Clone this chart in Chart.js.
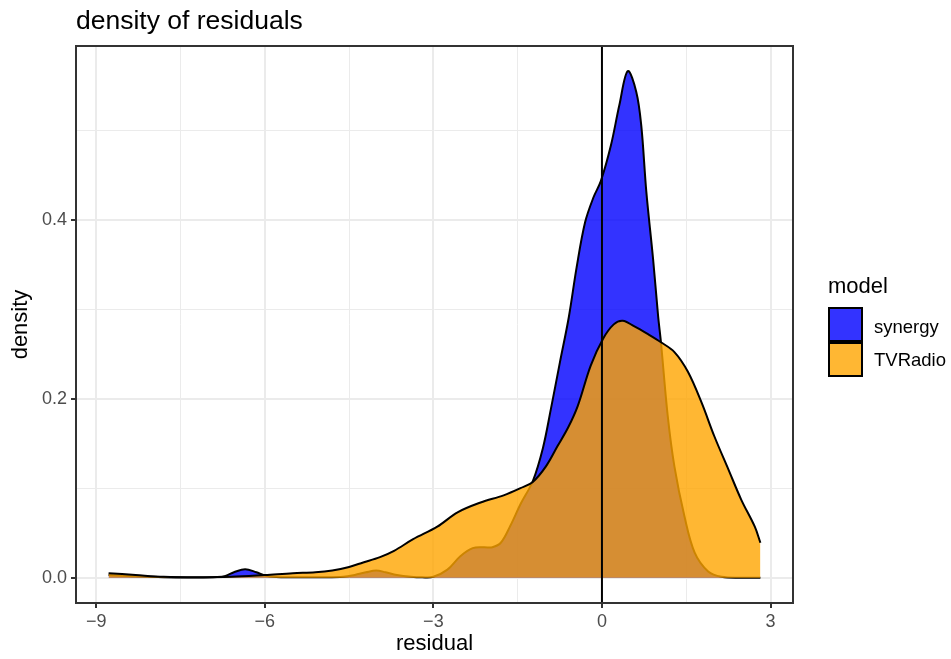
<!DOCTYPE html>
<html>
<head>
<meta charset="utf-8">
<script src="https://cdn.jsdelivr.net/npm/chart.js@4/dist/chart.umd.min.js"></script>
<style>
  body { margin: 0; background: #ffffff; }
  #wrap { position: relative; width: 951px; height: 659px; font-family: "Liberation Sans", Arial, sans-serif; }
  #myChart { position: absolute; left: 0; top: 0; }
  #title { position: absolute; left: 76px; top: 7px; font-size: 26.5px; line-height: 26.5px; color: #000; white-space: nowrap; }
  #legendTitle { position: absolute; left: 828px; top: 275px; font-size: 22px; line-height: 22px; color: #000; }
  .key { position: absolute; left: 828px; width: 31px; height: 31px; border: 2px solid #000; }
  .keyLabel { position: absolute; left: 874px; font-size: 18.5px; line-height: 18.5px; color: #000; white-space: nowrap; }
</style>
</head>
<body>
<div id="wrap">
  <canvas id="myChart" width="951" height="659"></canvas>
  <div id="title"></div>
  <div id="legend"></div>
</div>
<script>
//chart data
let chartTitle = "density of residuals";
let xTitle = "residual";
let yTitle = "density";
let legendTitle = "model";
let models = ["synergy", "TVRadio"];
let fills = ["rgba(0, 0, 255, 0.8)", "rgba(255, 165, 0, 0.8)"];

//synergy density curve
let synergyX = [-8.78, -8.3, -7.8, -7.2, -6.85, -6.7, -6.55, -6.35, -6.15, -6.0, -5.8, -5.5, -5.0, -4.6, -4.4, -4.2, -4.02, -3.85, -3.65, -3.4, -3.2, -3.0, -2.75, -2.52, -2.3, -2.1, -1.95, -1.8, -1.63, -1.45, -1.23, -1.05, -0.91, -0.75, -0.59, -0.45, -0.3, -0.15, -0.02, 0.16, 0.31, 0.46, 0.61, 0.7, 0.79, 0.91, 1.0, 1.05, 1.17, 1.29, 1.47, 1.65, 1.89, 2.13, 2.5, 2.82];
let synergyY = [0.003, 0.0015, 0.0005, 0.0003, 0.0008, 0.002, 0.006, 0.0095, 0.006, 0.0025, 0.0008, 0.0005, 0.0005, 0.001, 0.003, 0.006, 0.008, 0.006, 0.003, 0.001, 0.0004, 0.001, 0.009, 0.024, 0.033, 0.034, 0.034, 0.039, 0.058, 0.082, 0.108, 0.145, 0.188, 0.24, 0.291, 0.347, 0.397, 0.425, 0.443, 0.483, 0.528, 0.566, 0.543, 0.505, 0.431, 0.356, 0.292, 0.263, 0.181, 0.124, 0.068, 0.028, 0.007, 0.001, 0.0, 0.0];

//TVRadio density curve
let tvradioX = [-8.78, -8.3, -7.8, -7.2, -6.6, -6.0, -5.5, -5.1, -4.8, -4.5, -4.25, -3.95, -3.7, -3.36, -2.93, -2.57, -2.16, -1.75, -1.45, -1.23, -1.0, -0.79, -0.6, -0.43, -0.2, 0.02, 0.21, 0.37, 0.57, 0.82, 1.05, 1.29, 1.53, 1.77, 2.0, 2.25, 2.48, 2.72, 2.82];
let tvradioY = [0.005, 0.003, 0.001, 0.0005, 0.001, 0.003, 0.005, 0.006, 0.008, 0.012, 0.017, 0.023, 0.03, 0.043, 0.057, 0.073, 0.084, 0.092, 0.1, 0.107, 0.124, 0.147, 0.168, 0.192, 0.237, 0.267, 0.283, 0.287, 0.281, 0.272, 0.263, 0.252, 0.23, 0.196, 0.158, 0.121, 0.087, 0.057, 0.039];

//axes
let xTicks = [-9, -7.5, -6, -4.5, -3, -1.5, 0, 1.5, 3];
let xMajor = [-9, -6, -3, 0, 3];
let yTicks = [0, 0.1, 0.2, 0.3, 0.4, 0.5];
let yMajor = [0, 0.2, 0.4];
let xRange = [-9.36, 3.40];
let yRange = [-0.0283, 0.594];
let vlineX = 0;

function toPoints(xs, ys) {
  let points = [];
  for (let i = 0; i < xs.length; i++) {
    points.push({ x: xs[i], y: ys[i] });
  }
  return points;
}

function isMajor(list, value) {
  return list.some(v => Math.abs(v - value) < 1e-9);
}

//title and legend as html text
function setTexts() {
  document.getElementById("title").innerText = chartTitle;
  let legend = document.getElementById("legend");
  let html = `<div id="legendTitle">${legendTitle}</div>`;
  let keyTops = [307, 342];
  let labelTops = [317.5, 351];
  for (let i = 0; i < models.length; i++) {
    html += `<div class="key" style="top:${keyTops[i]}px;background:${fills[i]}"></div>`;
    html += `<div class="keyLabel" style="top:${labelTops[i]}px">${models[i]}</div>`;
  }
  legend.innerHTML = html;
}

//border of panel and vertical line at 0
let panelPlugin = {
  id: "panel",
  afterDatasetsDraw(chart) {
    let { ctx, chartArea, scales } = chart;
    let px = scales.x.getPixelForValue(vlineX);
    ctx.save();
    ctx.strokeStyle = "#000000";
    ctx.lineWidth = 2;
    ctx.beginPath();
    ctx.moveTo(px, chartArea.top);
    ctx.lineTo(px, chartArea.bottom);
    ctx.stroke();
    ctx.strokeStyle = "#333333";
    ctx.strokeRect(chartArea.left, chartArea.top, chartArea.right - chartArea.left, chartArea.bottom - chartArea.top);
    ctx.restore();
  }
};

function loadChart() {
  let ctx = document.getElementById("myChart").getContext("2d");
  let tickFont = { family: "Liberation Sans", size: 18 };
  let titleFont = { family: "Liberation Sans", size: 22 };
  let chart = new Chart(ctx, {
    type: "line",
    data: {
      datasets: [
        {
          label: models[0],
          data: toPoints(synergyX, synergyY),
          backgroundColor: fills[0],
          borderColor: "#000000",
          borderWidth: 2,
          fill: "origin",
          order: 2
        },
        {
          label: models[1],
          data: toPoints(tvradioX, tvradioY),
          backgroundColor: fills[1],
          borderColor: "#000000",
          borderWidth: 2,
          fill: "origin",
          order: 1
        }
      ]
    },
    options: {
      responsive: false,
      animation: false,
      devicePixelRatio: 1,
      elements: {
        point: { radius: 0 },
        line: { tension: 0.35 }
      },
      layout: { padding: { left: 0, right: 158, top: 46, bottom: 0 } },
      plugins: {
        legend: { display: false },
        tooltip: { enabled: false }
      },
      scales: {
        x: {
          type: "linear",
          min: xRange[0],
          max: xRange[1],
          afterFit: scale => { scale.height = 56; },
          afterBuildTicks: scale => { scale.ticks = xTicks.map(v => ({ value: v })); },
          ticks: {
            autoSkip: false,
            maxRotation: 0,
            padding: 3,
            color: "#4D4D4D",
            font: tickFont,
            callback: value => isMajor(xMajor, value) ? String(value).replace("-", "\u2212") : ""
          },
          grid: {
            color: "#EBEBEB",
            lineWidth: c => isMajor(xMajor, c.tick.value) ? 2 : 1,
            tickColor: c => isMajor(xMajor, c.tick.value) ? "#333333" : "rgba(0,0,0,0)",
            tickLength: 5,
            tickWidth: 2
          },
          border: { display: false },
          title: { display: true, text: xTitle, color: "#000000", font: titleFont, padding: { top: 0, bottom: 2 } }
        },
        y: {
          type: "linear",
          min: yRange[0],
          max: yRange[1],
          afterFit: scale => { scale.width = 76; },
          afterBuildTicks: scale => { scale.ticks = yTicks.map(v => ({ value: v })); },
          ticks: {
            autoSkip: false,
            padding: 4,
            color: "#4D4D4D",
            font: tickFont,
            callback: value => isMajor(yMajor, value) ? value.toFixed(1) : ""
          },
          grid: {
            color: "#EBEBEB",
            lineWidth: c => isMajor(yMajor, c.tick.value) ? 2 : 1,
            tickColor: c => isMajor(yMajor, c.tick.value) ? "#333333" : "rgba(0,0,0,0)",
            tickLength: 5,
            tickWidth: 2
          },
          border: { display: false },
          title: { display: true, text: yTitle, color: "#000000", font: titleFont, padding: { top: 8, bottom: 0 } }
        }
      }
    },
    plugins: [panelPlugin]
  });
  return chart;
}

window.onload = function() {
  setTexts();
  loadChart();
};
</script>
</body>
</html>
